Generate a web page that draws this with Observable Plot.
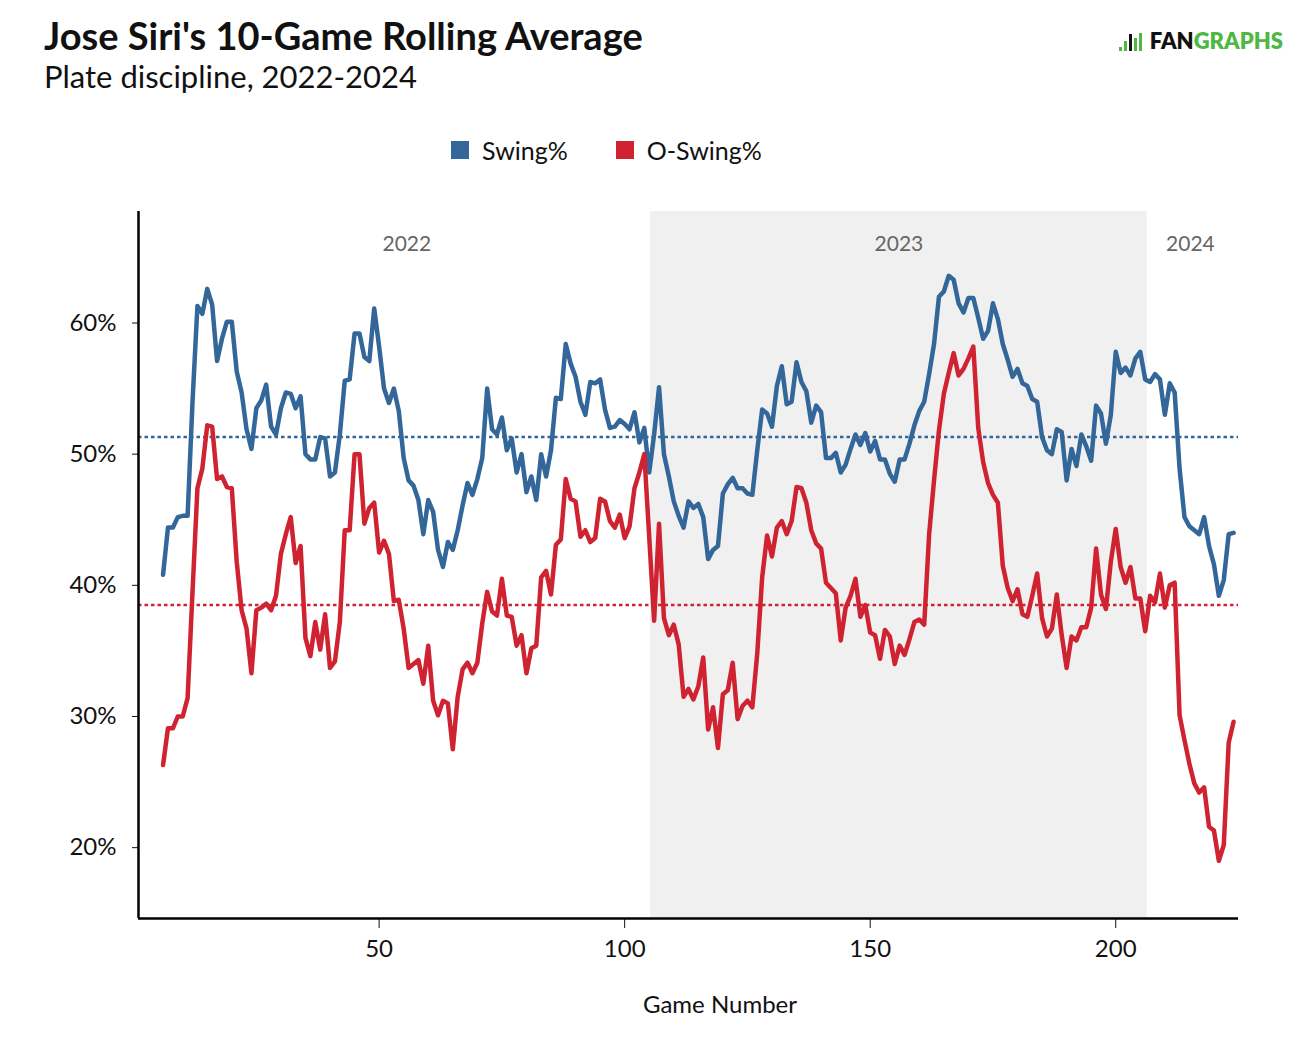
<!DOCTYPE html>
<html>
<head>
<meta charset="utf-8">
<script src="https://cdn.jsdelivr.net/npm/d3@7"></script>
<script src="https://cdn.jsdelivr.net/npm/@observablehq/plot@0.6"></script>
<style>
  body { margin: 0; background: #fff; font-family: Lato, "Open Sans", sans-serif; color: #111; }
  #page { position: relative; width: 1314px; height: 1053px; overflow: hidden; }
  .title { position: absolute; left: 44px; top: 16px; font-size: 38px; line-height: 38px; font-weight: 700; }
  .subtitle { position: absolute; left: 44px; top: 61px; font-size: 31px; line-height: 31px; }
  .legend { position: absolute; top: 138px; left: 451px; height: 24px; display: flex; align-items: center; font-size: 25px; }
  .legend .sw { width: 18px; height: 18px; display: inline-block; margin-right: 13px; }
  .legend .item { display: flex; align-items: center; margin-right: 48px; }
  .logo { position: absolute; right: 31px; top: 31px; display: flex; align-items: flex-end; font-size: 22px; font-weight: 800; line-height: 20px; }
  .logo .icon { display: flex; align-items: flex-end; margin-right: 6px; height: 18px; }
  .logo .icon span { display: inline-block; width: 3px; margin-right: 2px; }
  .xlabel { position: absolute; top: 992px; left: 720px; transform: translateX(-50%); font-size: 24px; line-height: 24px; }
  #chart { position: absolute; left: 0; top: 180px; }
</style>
</head>
<body>
<div id="page">
  <div class="title">Jose Siri's 10-Game Rolling Average</div>
  <div class="subtitle">Plate discipline, 2022-2024</div>
  <div class="logo">
    <div class="icon">
      <span style="height:4px;background:#4fb845"></span>
      <span style="height:10px;background:#4fb845"></span>
      <span style="height:17px;background:#111"></span>
      <span style="height:13px;background:#4fb845"></span>
      <span style="height:18px;background:#4fb845"></span>
    </div>
    <span style="color:#111">FAN</span><span style="color:#4fb845">GRAPHS</span>
  </div>
  <div class="legend" id="legend"></div>
  <div id="chart"></div>
  <div class="xlabel">Game Number</div>
</div>
<script>
// game number for each 10-game rolling window
const games = d3.range(6, 225)

// Swing%, games 6-224
const swing = [
  40.8,44.4,44.4,45.2,45.3,45.3,54.0,61.3,60.7,62.6,
  61.4,57.1,58.8,60.1,60.1,56.3,54.7,51.9,50.4,53.5,
  54.1,55.3,52.1,51.5,53.5,54.7,54.6,53.5,54.4,50.0,
  49.6,49.6,51.3,51.2,48.3,48.6,51.5,55.6,55.7,59.2,
  59.2,57.4,57.1,61.1,58.2,55.0,53.9,55.0,53.3,49.7,
  48.0,47.6,46.5,43.9,46.5,45.6,42.7,41.4,43.3,42.7,
  44.2,46.1,47.8,46.9,48.1,49.7,55.0,51.9,51.5,52.8,
  50.3,51.2,48.6,50.0,47.1,48.3,46.5,50.0,48.3,50.3,
  54.3,54.2,58.4,56.9,55.9,54.0,53.0,55.5,55.4,55.7,
  53.4,52.0,52.1,52.6,52.3,51.9,53.2,50.9,52.0,48.6,
  51.5,55.1,50.0,48.3,46.4,45.3,44.4,46.4,45.9,46.2,
  45.2,42.0,42.7,43.0,47.0,47.7,48.2,47.4,47.4,47.0,
  46.9,50.3,53.4,53.1,52.1,55.2,56.7,53.8,54.0,57.0,
  55.5,54.8,52.4,53.7,53.2,49.7,49.7,50.1,48.6,49.2,
  50.4,51.5,50.7,51.6,50.2,51.0,49.6,49.6,48.5,47.9,
  49.6,49.6,50.8,52.2,53.3,54.0,56.1,58.4,62.0,62.4,
  63.6,63.3,61.5,60.8,61.9,61.9,60.4,58.8,59.4,61.5,
  60.3,58.4,57.2,55.9,56.5,55.4,55.2,54.2,54.0,51.3,
  50.3,50.0,51.9,51.7,48.0,50.4,49.1,51.5,50.6,49.5,
  53.7,53.1,50.8,53.0,57.8,56.2,56.6,56.0,57.3,57.8,
  55.7,55.5,56.1,55.7,53.0,55.4,54.7,48.9,45.2,44.5,
  44.2,43.9,45.2,43.0,41.6,39.2,40.4,43.9,44.0
]

// O-Swing%, games 6-224
const oSwing = [
  26.3,29.1,29.1,30.0,30.0,31.4,39.5,47.4,48.9,52.2,
  52.1,48.1,48.3,47.5,47.4,41.8,38.1,36.7,33.3,38.1,
  38.3,38.6,38.1,39.2,42.4,43.9,45.2,41.7,43.0,36.0,
  34.6,37.2,35.1,37.8,33.7,34.2,37.2,44.2,44.2,50.0,
  50.0,44.7,45.9,46.3,42.5,43.4,42.4,38.8,38.9,36.7,
  33.7,34.0,34.3,32.5,35.4,31.2,30.1,31.2,31.0,27.5,
  31.5,33.6,34.1,33.3,34.1,37.1,39.5,38.0,37.7,40.5,
  37.7,37.6,35.4,36.2,33.3,35.2,35.4,40.6,41.1,39.3,
  43.1,43.5,48.1,46.6,46.4,43.7,44.2,43.3,43.6,46.6,
  46.4,44.9,44.4,45.4,43.6,44.5,47.4,48.6,50.0,43.7,
  37.3,44.7,37.5,36.2,37.0,35.5,31.5,32.1,31.3,32.3,
  34.5,29.0,30.7,27.6,31.7,32.0,34.1,29.8,30.8,31.2,
  30.7,34.8,40.6,43.8,42.2,44.4,44.9,43.9,44.9,47.5,
  47.4,46.3,44.2,43.2,42.8,40.2,39.8,39.4,35.8,38.3,
  39.2,40.5,37.6,38.5,36.4,36.2,34.4,36.6,36.1,34.0,
  35.4,34.7,35.9,37.2,37.4,37.0,43.9,48.0,51.8,54.6,
  56.2,57.7,56.0,56.5,57.3,58.2,52.0,49.4,47.8,46.9,
  46.3,41.5,39.8,38.8,39.7,37.8,37.6,39.2,40.9,37.5,
  36.1,36.7,39.3,36.2,33.7,36.1,35.8,36.8,36.8,38.3,
  42.8,39.3,38.2,41.8,44.3,41.4,40.2,41.4,39.0,39.0,
  36.5,39.2,38.7,40.9,38.3,40.0,40.2,30.1,28.2,26.4,
  24.9,24.2,24.6,21.6,21.3,19.0,20.2,28.0,29.6
]

// career averages (dotted lines)
const swingAvg = 51.3
const oSwingAvg = 38.5

// seasons
const years = ['2022', '2023', '2024']
const yearStart = [6, 105.3, 206.4]
const yearEnd = [105.3, 206.4, 224]
const shadedYear = '2023'

const metrics = ['Swing%', 'O-Swing%']
const metricColors = ['#336699', '#cf2331']

const xTicks = [50, 100, 150, 200]
const yTicks = [20, 30, 40, 50, 60]

const rows = games.flatMap((g, i) => [
  {game: g, pct: swing[i], metric: 'Swing%'},
  {game: g, pct: oSwing[i], metric: 'O-Swing%'}
])
const seasonRows = years.map((y, i) => ({year: y, start: yearStart[i], end: yearEnd[i]}))

let chart = Plot.plot({
  width: 1314,
  height: 873,
  marginLeft: 138,
  marginRight: 76,
  marginTop: 31,
  marginBottom: 135,
  style: {fontFamily: 'Lato, sans-serif', fontSize: '24px', color: '#111', background: 'transparent'},
  x: {
    domain: [1, 225],
    ticks: xTicks,
    tickSize: 10,
    tickPadding: 11,
    label: null
  },
  y: {
    domain: [14.6, 68.5],
    ticks: yTicks,
    tickFormat: d => d + '%',
    tickSize: 6,
    tickPadding: 16,
    label: null
  },
  color: {domain: metrics, range: metricColors},
  marks: [
    Plot.rect(seasonRows.filter(d => d.year === shadedYear), {x1: 'start', x2: 'end', fill: '#f0f0f0'}),
    Plot.text(seasonRows, {
      x: d => (d.start + d.end) / 2,
      text: 'year',
      frameAnchor: 'top',
      dy: 25,
      fill: '#666',
      fontSize: 21
    }),
    Plot.ruleY([swingAvg], {stroke: metricColors[0], strokeWidth: 2.5, strokeDasharray: '3.5,3'}),
    Plot.ruleY([oSwingAvg], {stroke: metricColors[1], strokeWidth: 2.5, strokeDasharray: '3.5,3'}),
    Plot.line(rows, {
      x: 'game',
      y: 'pct',
      z: 'metric',
      stroke: 'metric',
      strokeWidth: 4.5,
      strokeLinejoin: 'round'
    }),
    Plot.ruleX([1], {stroke: '#000', strokeWidth: 2.5}),
    Plot.ruleY([14.6], {stroke: '#000', strokeWidth: 2.5})
  ]
})
d3.select('#chart').append(() => chart)

// legend
const legend = d3.select('#legend')
metrics.forEach((m, i) => {
  const item = legend.append('div').attr('class', 'item')
  item.append('span').attr('class', 'sw').style('background', metricColors[i])
  item.append('span').text(m)
})
</script>
</body>
</html>
